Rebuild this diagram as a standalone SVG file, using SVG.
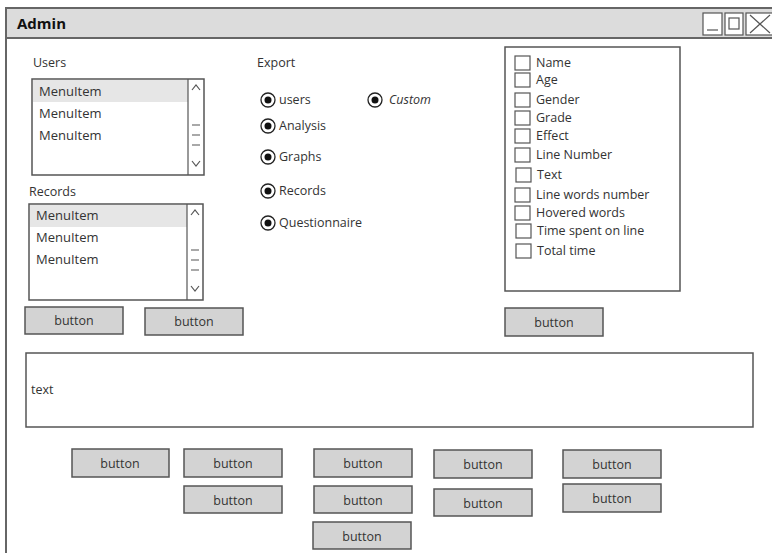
<svg xmlns="http://www.w3.org/2000/svg" width="772" height="553" viewBox="0 0 772 553">
<defs>
<style>
text{font-family:"Comic Sans MS","Open Sans","Liberation Sans",sans-serif;font-size:12.5px;fill:#333}
.box{fill:#fff;stroke:#555;stroke-width:1.5}
.btn rect{fill:#d3d3d3;stroke:#555;stroke-width:1.5}
.btn text{text-anchor:middle;font-size:12.5px}
.cb{fill:#fff;stroke:#555;stroke-width:1.2}
.ro{fill:#fff;stroke:#222;stroke-width:1.3}
.ri{fill:#111}
.sb{fill:none;stroke:#555;stroke-width:1.2}
</style>
</defs>
<rect width="772" height="553" fill="#fff"/>
<g id="window">
<rect x="6" y="8" width="770" height="550" fill="#fff" stroke="#666" stroke-width="2"/>
<rect x="6" y="8" width="770" height="30" fill="#dcdcdc" stroke="#666" stroke-width="2"/>
<text x="17" y="29" style="font-size:15px;font-weight:bold;fill:#111">Admin</text>
<rect x="703" y="13" width="19" height="22" fill="#fff" stroke="#555" stroke-width="1.2"/>
<line x1="707" y1="30" x2="718" y2="30" stroke="#555" stroke-width="1.2"/>
<rect x="725" y="13" width="18" height="22" fill="#fff" stroke="#555" stroke-width="1.2"/>
<rect x="729" y="18" width="10" height="11" fill="none" stroke="#555" stroke-width="1.2"/>
<rect x="746" y="13" width="30" height="22" fill="#fff" stroke="#555" stroke-width="1.2"/>
<line x1="750" y1="15" x2="770" y2="33" stroke="#555" stroke-width="1.2"/>
<line x1="770" y1="15" x2="750" y2="33" stroke="#555" stroke-width="1.2"/>
</g>
<g id="users">
<text x="33" y="67">Users</text>
<rect class="box" x="32" y="79" width="172" height="96"/>
<rect x="33" y="80" width="155" height="22" fill="#e6e6e6"/>
<line class="sb" x1="188" y1="79" x2="188" y2="175"/>
<path class="sb" d="M192 90 L196 85 L200 90 M192 161 L196 166 L200 161 M192 125 H200 M192 135 H200 M192 145 H200"/>
<text x="39" y="96" style="font-size:13px">MenuItem</text>
<text x="39" y="118" style="font-size:13px">MenuItem</text>
<text x="39" y="140" style="font-size:13px">MenuItem</text>
</g>
<g id="records">
<text x="29" y="196">Records</text>
<rect class="box" x="29" y="204" width="174" height="96"/>
<rect x="30" y="205" width="157" height="22" fill="#e6e6e6"/>
<line class="sb" x1="187" y1="204" x2="187" y2="300"/>
<path class="sb" d="M191 215 L195 210 L199 215 M191 286 L195 291 L199 286 M191 250 H199 M191 260 H199 M191 270 H199"/>
<text x="36" y="220" style="font-size:13px">MenuItem</text>
<text x="36" y="242" style="font-size:13px">MenuItem</text>
<text x="36" y="264" style="font-size:13px">MenuItem</text>
</g>
<g id="btn-users" class="btn"><rect x="25" y="307" width="98" height="27"/><text x="74" y="325">button</text></g>
<g id="btn-records" class="btn"><rect x="145" y="308" width="98" height="27"/><text x="194" y="326">button</text></g>
<g id="export">
<text x="257" y="67">Export</text>
<circle class="ro" cx="268" cy="100" r="7"/><circle class="ri" cx="268" cy="100" r="3.5"/><text x="279" y="104">users</text>
<circle class="ro" cx="375" cy="100" r="7"/><circle class="ri" cx="375" cy="100" r="3.5"/><text x="389" y="104" font-style="italic">Custom</text>
<circle class="ro" cx="268" cy="126" r="7"/><circle class="ri" cx="268" cy="126" r="3.5"/><text x="279" y="130">Analysis</text>
<circle class="ro" cx="268" cy="157" r="7"/><circle class="ri" cx="268" cy="157" r="3.5"/><text x="279" y="161">Graphs</text>
<circle class="ro" cx="268" cy="191" r="7"/><circle class="ri" cx="268" cy="191" r="3.5"/><text x="279" y="195">Records</text>
<circle class="ro" cx="268" cy="223" r="7"/><circle class="ri" cx="268" cy="223" r="3.5"/><text x="279" y="227">Questionnaire</text>
</g>
<g id="fields">
<rect class="box" x="505" y="47" width="175" height="244"/>
<rect class="cb" x="515" y="56" width="15" height="14"/><text x="536" y="67">Name</text>
<rect class="cb" x="515" y="73" width="15" height="14"/><text x="536" y="84">Age</text>
<rect class="cb" x="515" y="93" width="15" height="14"/><text x="536" y="104">Gender</text>
<rect class="cb" x="515" y="111" width="15" height="14"/><text x="536" y="122">Grade</text>
<rect class="cb" x="515" y="129" width="15" height="14"/><text x="536" y="140">Effect</text>
<rect class="cb" x="515" y="148" width="15" height="14"/><text x="536" y="159">Line Number</text>
<rect class="cb" x="516" y="168" width="15" height="14"/><text x="537" y="179">Text</text>
<rect class="cb" x="515" y="188" width="15" height="14"/><text x="536" y="199">Line words number</text>
<rect class="cb" x="515" y="206" width="15" height="14"/><text x="536" y="217">Hovered words</text>
<rect class="cb" x="516" y="224" width="15" height="14"/><text x="537" y="235">Time spent on line</text>
<rect class="cb" x="516" y="244" width="15" height="14"/><text x="537" y="255">Total time</text>
</g>
<g id="btn-fields" class="btn"><rect x="505" y="308" width="98" height="28"/><text x="554" y="327">button</text></g>
<g id="textarea">
<rect class="box" x="26" y="353" width="727" height="74"/>
<text x="31" y="394">text</text>
</g>
<g id="b1" class="btn"><rect x="72" y="449" width="97" height="28"/><text x="120" y="468">button</text></g>
<g id="b2" class="btn"><rect x="184" y="449" width="98" height="28"/><text x="233" y="468">button</text></g>
<g id="b3" class="btn"><rect x="314" y="449" width="98" height="28"/><text x="363" y="468">button</text></g>
<g id="b4" class="btn"><rect x="434" y="450" width="98" height="28"/><text x="483" y="469">button</text></g>
<g id="b5" class="btn"><rect x="563" y="450" width="98" height="28"/><text x="612" y="469">button</text></g>
<g id="b6" class="btn"><rect x="184" y="486" width="98" height="27"/><text x="233" y="505">button</text></g>
<g id="b7" class="btn"><rect x="314" y="486" width="98" height="27"/><text x="363" y="505">button</text></g>
<g id="b8" class="btn"><rect x="434" y="489" width="98" height="27"/><text x="483" y="508">button</text></g>
<g id="b9" class="btn"><rect x="563" y="484" width="98" height="28"/><text x="612" y="503">button</text></g>
<g id="b10" class="btn"><rect x="313" y="522" width="98" height="27"/><text x="362" y="541">button</text></g>
</svg>
